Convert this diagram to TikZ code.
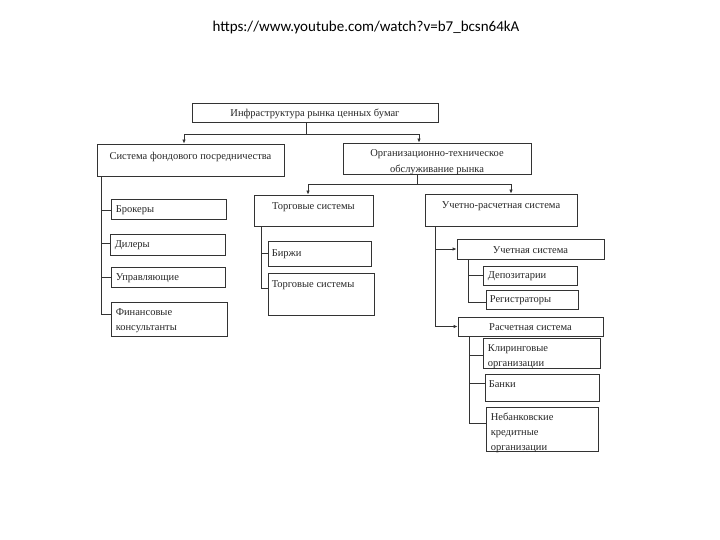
\documentclass[tikz,border=0pt]{standalone}
\usepackage{fontspec}
\setmainfont{Liberation Serif}
\newfontfamily\urlfont{Carlito}
\usetikzlibrary{fit,arrows.meta}
\tikzset{
  box/.style={draw=black!80, line width=0.8pt, inner sep=0pt},
  lbl/.style={font=\fontsize{10.5}{15}\selectfont, text=black!85, inner sep=0pt, align=left},
  clbl/.style={font=\fontsize{10.5}{16}\selectfont, text=black!85, inner sep=0pt, align=center},
  conn/.style={draw=black!80, line width=0.8pt},
  arr/.style={conn, -{Latex[length=4pt,width=3.5pt]}}
}
\newcommand\mkbox[5]{\node[box, fit={(#2,#3) (#4,#5)}] (#1) {};}
\begin{document}
\begin{tikzpicture}[x=1pt,y=-1pt]
\useasboundingbox (0,0) rectangle (720,540);
\node[font=\urlfont\fontsize{15}{18}\selectfont] (url) at (366,28) {https://www.youtube.com/watch?v=b7\_bcsn64kA};

% parent boxes
\mkbox{root}{192}{103}{438}{122}
\node[clbl] at ([yshift=-1pt]root.center) {Инфраструктура рынка ценных бумаг};
\mkbox{sfp}{97}{144}{284}{176}
\node[clbl, anchor=north] at ([yshift=-8pt]sfp.north) {Система фондового посредничества};
\mkbox{org}{343}{143}{531}{174}
\node[clbl, anchor=north] at ([yshift=-7pt]org.north) {Организационно-техническое\\обслуживание рынка};
\mkbox{ts}{254}{195}{373}{226}
\node[clbl, anchor=north] at ([yshift=-8pt]ts.north) {Торговые системы};
\mkbox{urs}{425}{194}{577}{226}
\node[clbl, anchor=north] at ([yshift=-8pt]urs.north) {Учетно-расчетная система};
\mkbox{us}{457}{239}{604}{259}
\node[clbl] at ([yshift=-1pt]us.center) {Учетная система};
\mkbox{rs}{458}{317}{603}{336}
\node[clbl] at ([yshift=-1pt]rs.center) {Расчетная система};

% left children
\mkbox{brok}{111}{199}{226}{219}
\node[lbl, anchor=west] at ([xshift=5pt,yshift=-1pt]brok.west) {Брокеры};
\mkbox{dil}{110}{234}{225}{255}
\node[lbl, anchor=west] at ([xshift=5pt,yshift=-1pt]dil.west) {Дилеры};
\mkbox{upr}{111}{267}{225}{287}
\node[lbl, anchor=west] at ([xshift=5pt,yshift=-1pt]upr.west) {Управляющие};
\mkbox{fin}{111}{302}{227}{336}
\node[lbl, anchor=north west] at ([xshift=5pt,yshift=-7pt]fin.north west) {Финансовые\\консультанты};

% trading children
\mkbox{birzh}{268}{241}{371}{266}
\node[lbl, anchor=west] at ([xshift=4pt,yshift=-1pt]birzh.west) {Биржи};
\mkbox{ts2}{268}{273}{374}{315}
\node[lbl, anchor=north west] at ([xshift=4pt,yshift=-8pt]ts2.north west) {Торговые системы};

% accounting children
\mkbox{dep}{483}{266}{577}{285}
\node[lbl, anchor=west] at ([xshift=5pt,yshift=-1pt]dep.west) {Депозитарии};
\mkbox{reg}{486}{290}{578}{309}
\node[lbl, anchor=west] at ([xshift=4pt,yshift=-1pt]reg.west) {Регистраторы};

% settlement children
\mkbox{klir}{483}{338}{600}{368}
\node[lbl, anchor=north west] at ([xshift=5pt,yshift=-7pt]klir.north west) {Клиринговые\\организации};
\mkbox{bank}{485}{374}{599}{401}
\node[lbl, anchor=north west] at ([xshift=4pt,yshift=-7pt]bank.north west) {Банки};
\mkbox{neb}{486}{407}{598}{451}
\node[lbl, anchor=north west] at ([xshift=5pt,yshift=-6pt]neb.north west) {Небанковские\\кредитные\\организации};

% connectors: root
\coordinate (rj) at (306,134);
\draw[conn] (root.south -| rj) -- (rj);
\draw[arr] (rj) -| (sfp.north -| 184,0);
\draw[arr] (rj) -| (org.north -| 419,0);
% org
\coordinate (oj) at (417,184);
\draw[conn] (org.south -| oj) -- (oj);
\draw[arr] (oj) -| (ts.north -| 308,0);
\draw[arr] (oj) -| (urs.north -| 511,0);
% left column
\draw[conn] (sfp.south -| 101,0) |- (fin.west |- 0,314);
\draw[conn] (101,210) -- (brok.west |- 0,210);
\draw[conn] (101,243) -- (dil.west |- 0,243);
\draw[conn] (101,277) -- (upr.west |- 0,277);
% trading
\draw[conn] (ts.south -| 261,0) |- (ts2.west |- 0,288);
\draw[conn] (261,253) -- (birzh.west |- 0,253);
% accounting-settlement
\draw[arr] (urs.south -| 435,0) |- (rs.west);
\draw[arr] (435,249) -- (us.west);
% accounting children
\draw[conn] (us.south -| 468,0) |- (reg.west |- 0,302);
\draw[conn] (468,275) -- (dep.west |- 0,275);
% settlement children
\draw[conn] (rs.south -| 469,0) |- (neb.west |- 0,423);
\draw[conn] (469,355) -- (klir.west |- 0,355);
\draw[conn] (469,383) -- (bank.west |- 0,383);
\end{tikzpicture}
\end{document}
